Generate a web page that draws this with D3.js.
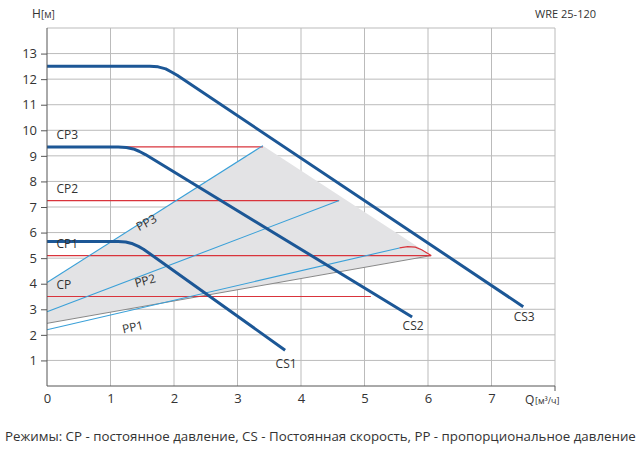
<!DOCTYPE html><html><head><meta charset="utf-8"><script src="https://cdn.jsdelivr.net/npm/d3@7"></script>
<style>body{margin:0;background:#fff}text{font-family:"Open Sans",sans-serif;fill:#333}</style></head><body><svg width="640" height="450"></svg><script>
const xTicks=[0,1,2,3,4,5,6,7];
const yTicks=[1,2,3,4,5,6,7,8,9,10,11,12,13];
const cs3=[[0,12.5],[1.62,12.5],[1.75,12.48],[1.87,12.4],[1.96,12.28],[2.05,12.15],[7.5,3.1]];
const cs2=[[0,9.35],[1.12,9.35],[1.25,9.33],[1.36,9.27],[1.45,9.18],[1.55,9.05],[5.75,2.7]];
const cs1=[[0,5.65],[1.12,5.65],[1.24,5.63],[1.35,5.56],[1.44,5.46],[1.52,5.35],[3.75,1.4]];
const cpLines=[{n:"CP3",h:9.35,x:3.4},{n:"CP2",h:7.25,x:4.6},{n:"CP1",h:5.1,x:6.05},{n:"CP",h:3.5,x:5.1}];
const ppLines=[{n:"PP3",p:[[0,4.05],[3.4,9.4]]},{n:"PP2",p:[[0,2.9],[4.6,7.25]]},{n:"PP1",p:[[0,2.2],[5.55,5.4]]}];
const redCap=[[5.55,5.4],[5.68,5.45],[5.8,5.43],[5.9,5.33],[6.05,5.1]];
const grayLine=[[0,2.45],[6.05,5.1]];
const fillPoly=[[0,4.05],[3.4,9.4],[6.05,5.1],[0,2.45]];
const svg=d3.select("svg");
const x=d3.scaleLinear().domain([0,8]).range([47,555]);
const y=d3.scaleLinear().domain([0,14]).range([386,28]);
const g=svg.append("g");
xTicks.concat([8]).forEach(t=>{if(t>0)g.append("line").attr("x1",x(t)).attr("x2",x(t)).attr("y1",y(0)).attr("y2",y(14)).attr("stroke","#bbb");});
yTicks.concat([14]).forEach(t=>g.append("line").attr("x1",x(0)).attr("x2",x(8)).attr("y1",y(t)).attr("y2",y(t)).attr("stroke","#bbb"));
const line=d3.line().x(d=>x(d[0])).y(d=>y(d[1]));
g.append("path").attr("d",line(fillPoly)+"Z").attr("fill","#e3e3e5");
g.append("path").attr("d",line(grayLine)).attr("stroke","#888").attr("fill","none");
cpLines.forEach(c=>g.append("path").attr("d",line([[0,c.h],[c.x,c.h]])).attr("stroke","#d9343c").attr("fill","none").attr("stroke-width",1.1));
g.append("path").attr("d",line(redCap)).attr("stroke","#d9343c").attr("fill","none").attr("stroke-width",1.1);
ppLines.forEach(p=>g.append("path").attr("d",line(p.p)).attr("stroke","#3aa0d8").attr("fill","none").attr("stroke-width",1.1));
[cs3,cs2,cs1].forEach(c=>g.append("path").attr("d",line(c)).attr("stroke","#1c5796").attr("stroke-width",3).attr("fill","none").attr("stroke-linejoin","round"));
svg.append("g").attr("transform",`translate(0,${y(0)})`).call(d3.axisBottom(x).tickValues(xTicks).tickSize(0).tickPadding(8)).call(a=>{a.select(".domain").attr("stroke","#555").attr("d",`M${x(0)},0H${x(8)}`);a.selectAll("text").attr("font-size",13).attr("fill","#444");});
svg.append("g").attr("transform",`translate(${x(0)},0)`).call(d3.axisLeft(y).tickValues(yTicks).tickSize(6).tickPadding(4)).call(a=>{a.select(".domain").attr("stroke","#555").attr("d",`M0,${y(0)}V${y(14)}`);a.selectAll("line").attr("stroke","#555");a.selectAll("text").attr("font-size",13).attr("fill","#444");});
svg.append("line").attr("x1",x(8)).attr("x2",x(8)).attr("y1",y(0)).attr("y2",y(0)+5).attr("stroke","#555");
const t=(s,xx,yy,sz,rot,anchor)=>svg.append("text").attr("x",xx).attr("y",yy).attr("font-size",sz).attr("text-anchor",anchor||"start").attr("transform",rot?`rotate(${rot},${xx},${yy})`:null).text(s);
cpLines.forEach(c=>t(c.n,x(0.15),y(c.h+0.3),12));
t("PP3",x(1.45),y(6.05),12,-28);t("PP2",x(1.4),y(3.85),12,-15);t("PP1",x(1.2),y(2.05),12,-12);
t("CS1",x(3.6),y(0.7),12);t("CS2",x(5.6),y(2.2),12);t("CS3",x(7.35),y(2.55),12);
t("H",32,18,12);t("[м]",41,18,10);
t("Q",525,404,12);t("[м³/ч]",535,404,9);
t("WRE 25-120",596,18,11,0,"end");
t("Режимы: CP - постоянное давление, CS - Постоянная скорость, PP - пропорциональное давление",5,441,13.3);
</script></body></html>
